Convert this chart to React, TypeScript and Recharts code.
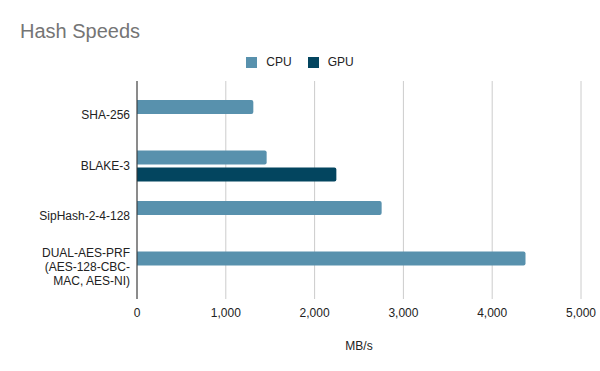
import React from 'react';
import { BarChart, Bar, XAxis, YAxis, CartesianGrid, Legend } from 'recharts';

// Hash throughput in MB/s
const categories = [
  'SHA-256',
  'BLAKE-3',
  'SipHash-2-4-128',
  'DUAL-AES-PRF (AES-128-CBC-MAC, AES-NI)',
];
// Wrapped tick text for each category
const categoryLines = [
  ['SHA-256'],
  ['BLAKE-3'],
  ['SipHash-2-4-128'],
  ['DUAL-AES-PRF', '(AES-128-CBC-', 'MAC, AES-NI)'],
];
const cpuSpeeds = [1310, 1460, 2755, 4375];
const gpuSpeeds: (number | null)[] = [null, 2245, null, null];
const xTicks = [0, 1000, 2000, 3000, 4000, 5000];

const series = [
  { key: 'CPU', color: '#5891ad' },
  { key: 'GPU', color: '#03455f' },
];

const data = categories.map((name, i) => ({
  name,
  CPU: cpuSpeeds[i],
  GPU: gpuSpeeds[i],
}));

const FONT = '"Liberation Sans", Arial, sans-serif';
const TEXT = '#222222';

const CategoryTick = (props: any) => {
  const { x, y, payload } = props;
  const idx = categories.indexOf(payload.value);
  const lines = idx >= 0 ? categoryLines[idx] : [String(payload.value)];
  const lh = 14;
  const start = -((lines.length - 1) * lh) / 2 + 4;
  return (
    <text x={x} y={y} textAnchor="end" fontSize={12} fill={TEXT} fontFamily={FONT}>
      {lines.map((line, i) => (
        <tspan key={i} x={x} dy={i === 0 ? start : lh}>
          {line}
        </tspan>
      ))}
    </text>
  );
};

const LegendContent = () => (
  <div
    style={{
      height: 33,
      boxSizing: 'border-box',
      paddingTop: 8,
      display: 'flex',
      justifyContent: 'center',
      fontFamily: FONT,
      fontSize: 12,
      color: TEXT,
    }}
  >
    {series.map((s, i) => (
      <div
        key={s.key}
        style={{
          display: 'flex',
          alignItems: 'center',
          height: 13,
          lineHeight: '13px',
          marginRight: i < series.length - 1 ? 16 : 0,
        }}
      >
        <span
          style={{
            display: 'inline-block',
            width: 11,
            height: 11,
            background: s.color,
            marginRight: 9,
          }}
        />
        <span>{s.key}</span>
      </div>
    ))}
  </div>
);

export default function App() {
  return (
    <div style={{ position: 'absolute', left: 0, top: 0, width: 600, height: 371, background: '#fff' }}>
      <div
        style={{
          position: 'absolute',
          left: 20,
          top: 21,
          fontFamily: FONT,
          fontSize: 20,
          lineHeight: '20px',
          color: '#757575',
          zIndex: 1,
        }}
      >
        Hash Speeds
      </div>
      <BarChart
        width={600}
        height={371}
        data={data}
        layout="vertical"
        margin={{ top: 48, right: 19, bottom: 0, left: 0 }}
        barSize={14}
        barGap={3}
      >
        <Legend
          verticalAlign="top"
          content={<LegendContent />}
          wrapperStyle={{ left: 0, width: 600, top: 48 }}
        />
        <CartesianGrid horizontal={false} stroke="#cccccc" />
        <XAxis
          type="number"
          domain={[0, 5000]}
          ticks={xTicks}
          height={72}
          axisLine={false}
          tickLine={false}
          tickSize={0}
          tickMargin={9}
          tick={{ fontSize: 12, fill: TEXT, fontFamily: FONT }}
          tickFormatter={(v: number) => v.toLocaleString('en-US')}
          label={{
            value: 'MB/s',
            position: 'insideTop',
            offset: 42,
            fontSize: 12,
            fill: TEXT,
            fontFamily: FONT,
          }}
        />
        <YAxis
          type="category"
          dataKey="name"
          width={137}
          padding={{ top: 9, bottom: 7 }}
          axisLine={{ stroke: '#333333' }}
          tickLine={false}
          tickSize={0}
          tickMargin={7}
          tick={<CategoryTick />}
          interval={0}
        />
        {series.map((s) => (
          <Bar
            key={s.key}
            dataKey={s.key}
            fill={s.color}
            radius={[0, 2, 2, 0]}
            isAnimationActive={false}
          />
        ))}
      </BarChart>
    </div>
  );
}
